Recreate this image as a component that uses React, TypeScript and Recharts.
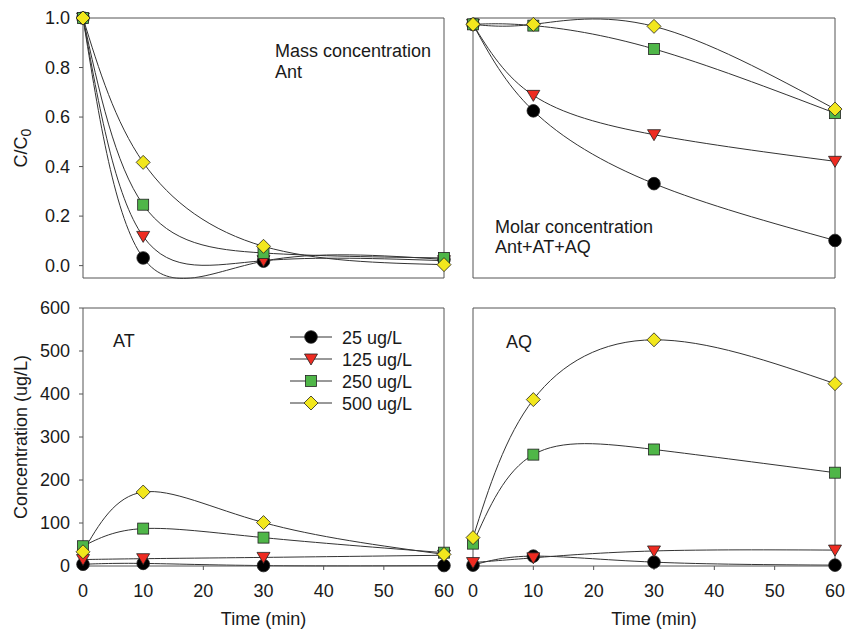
import React from 'react';
import { LineChart, Line, XAxis, YAxis, ReferenceLine, Legend, Customized } from 'recharts';

// sampling times (min)
const times = [0, 10, 30, 60];

// C/C0, mass concentration of Ant
const massAnt25 = [1.0, 0.031, 0.018, 0.025];
const massAnt125 = [1.0, 0.118, 0.02, 0.02];
const massAnt250 = [1.0, 0.246, 0.051, 0.031];
const massAnt500 = [1.0, 0.417, 0.078, 0.004];

// C/C0, molar concentration Ant+AT+AQ
const molar25 = [1.0, 0.659, 0.372, 0.148];
const molar125 = [1.0, 0.72, 0.565, 0.46];
const molar250 = [1.0, 0.995, 0.903, 0.65];
const molar500 = [1.0, 1.0, 0.992, 0.666];

// AT concentration (ug/L)
const at25 = [4, 6, 1, 1];
const at125 = [15, 17, 20, 25];
const at250 = [46, 87, 66, 31];
const at500 = [33, 172, 101, 27];

// AQ concentration (ug/L)
const aq25 = [2, 23, 9, 2];
const aq125 = [8, 19, 35, 37];
const aq250 = [52, 259, 271, 217];
const aq500 = [66, 387, 526, 424];

const seriesNames = ['25 ug/L', '125 ug/L', '250 ug/L', '500 ug/L'];
const xTicks = [0, 10, 20, 30, 40, 50, 60];
const ratioTicks = [0, 0.2, 0.4, 0.6, 0.8, 1.0];
const concTicks = [0, 100, 200, 300, 400, 500, 600];

const FONT = '"Liberation Sans", Arial, sans-serif';
const AXIS = '#555';
const INK = '#1a1a1a';
const LINE = '#333';
const keys = ['c25', 'c125', 'c250', 'c500'];
const fills = ['#000000', '#ee2b21', '#4fb648', '#f2e71d'];
const shapes = ['circle', 'tri', 'square', 'diamond'];

const rows = (a: number[], b: number[], c: number[], d: number[]) =>
  times.map((t, i) => ({ t, c25: a[i], c125: b[i], c250: c[i], c500: d[i] }));

const massData = rows(massAnt25, massAnt125, massAnt250, massAnt500);
const molarData = rows(molar25, molar125, molar250, molar500);
const atData = rows(at25, at125, at250, at500);
const aqData = rows(aq25, aq125, aq250, aq500);

const Marker = ({ cx, cy, shape, fill }: any) => {
  const s = '#222';
  if (shape === 'circle') return <circle cx={cx} cy={cy} r={6.3} fill={fill} stroke={s} strokeWidth={0.8} />;
  if (shape === 'square') return <rect x={cx - 5.5} y={cy - 5.5} width={11} height={11} fill={fill} stroke={s} strokeWidth={0.8} />;
  if (shape === 'tri')
    return <polygon points={`${cx - 6.5},${cy - 5} ${cx + 6.5},${cy - 5} ${cx},${cy + 6}`} fill={fill} stroke={s} strokeWidth={0.8} />;
  return <polygon points={`${cx},${cy - 7} ${cx + 7},${cy} ${cx},${cy + 7} ${cx - 7},${cy}`} fill={fill} stroke={s} strokeWidth={0.8} />;
};

const renderLines = () =>
  keys.map((k, i) => (
    <Line
      key={k}
      type="natural"
      dataKey={k}
      name={seriesNames[i]}
      stroke={LINE}
      strokeWidth={1}
      isAnimationActive={false}
      dot={(p: any) => <Marker key={`${k}-${p.index}`} cx={p.cx} cy={p.cy} shape={shapes[i]} fill={fills[i]} />}
      activeDot={false}
    />
  ));

const YTitle = ({ viewBox, sub }: any) => {
  const cx = viewBox.x + 27;
  const cy = viewBox.y + viewBox.height / 2;
  return (
    <text transform={`rotate(-90 ${cx} ${cy})`} x={cx} y={cy} textAnchor="middle" fontSize={18} fill={INK} fontFamily={FONT}>
      {sub ? (
        <>
          <tspan>C/C</tspan>
          <tspan dy={4} fontSize={14}>0</tspan>
        </>
      ) : (
        'Concentration (ug/L)'
      )}
    </text>
  );
};

const Notes = ({ lines }: { lines: { x: number; y: number; s: string }[] }) => (
  <g>
    {lines.map((l) => (
      <text key={l.s} x={l.x} y={l.y} fontSize={18} fill={INK} fontFamily={FONT}>
        {l.s}
      </text>
    ))}
  </g>
);

const LegendBox = () => (
  <svg width={170} height={96}>
    {seriesNames.map((n, i) => {
      const y = 11 + i * 22;
      return (
        <g key={n}>
          <line x1={2} x2={44} y1={y} y2={y} stroke={LINE} strokeWidth={1} />
          <Marker cx={23} cy={y} shape={shapes[i]} fill={fills[i]} />
          <text x={54} y={y + 6.5} fontSize={18} fill={INK} fontFamily={FONT}>
            {n}
          </text>
        </g>
      );
    })}
  </svg>
);

const tickStyle = { fontSize: 18, fill: INK, fontFamily: FONT };

export default function App() {
  return (
    <div style={{ position: 'absolute', left: 0, top: 0, width: 846, height: 631, background: '#fff' }}>
      {/* top left: mass concentration Ant */}
      <div style={{ position: 'absolute', left: 0, top: 0 }}>
        <LineChart width={460} height={300} data={massData} margin={{ top: 18, right: 16, bottom: 12, left: 0 }}>
          <XAxis dataKey="t" type="number" domain={[0, 60]} ticks={xTicks} tick={false} tickSize={4} height={10} stroke={AXIS} />
          <YAxis
            type="number"
            domain={[-0.05, 1.0]}
            ticks={ratioTicks}
            tickFormatter={(v: number) => v.toFixed(1)}
            tick={tickStyle}
            tickSize={4}
            tickMargin={9}
            width={83}
            stroke={AXIS}
            label={{ content: (p: any) => <YTitle {...p} sub /> }}
          />
          <ReferenceLine y={1.0} stroke={AXIS} />
          <ReferenceLine x={60} stroke={AXIS} />
          {renderLines()}
          <Customized component={() => <Notes lines={[{ x: 275, y: 57, s: 'Mass concentration' }, { x: 275, y: 78, s: 'Ant' }]} />} />
        </LineChart>
      </div>

      {/* top right: molar concentration */}
      <div style={{ position: 'absolute', left: 460, top: 0 }}>
        <LineChart width={386} height={300} data={molarData} margin={{ top: 18, right: 11, bottom: 12, left: 0 }}>
          <XAxis dataKey="t" type="number" domain={[0, 60]} ticks={xTicks} tick={false} tickSize={4} height={10} stroke={AXIS} />
          <YAxis type="number" domain={[0, 1.025]} ticks={ratioTicks} tick={false} tickSize={4} width={13} stroke={AXIS} />
          <ReferenceLine y={1.025} stroke={AXIS} />
          <ReferenceLine x={60} stroke={AXIS} />
          {renderLines()}
          <Customized component={() => <Notes lines={[{ x: 35, y: 233, s: 'Molar concentration' }, { x: 35, y: 253, s: 'Ant+AT+AQ' }]} />} />
        </LineChart>
      </div>

      {/* bottom left: AT */}
      <div style={{ position: 'absolute', left: 0, top: 290 }}>
        <LineChart width={460} height={341} data={atData} margin={{ top: 18, right: 16, bottom: 6, left: 0 }}>
          <XAxis
            dataKey="t"
            type="number"
            domain={[0, 60]}
            ticks={xTicks}
            tick={tickStyle}
            tickSize={4}
            tickMargin={14}
            height={59}
            stroke={AXIS}
            label={{ value: 'Time (min)', position: 'insideBottom', offset: 0, style: tickStyle }}
          />
          <YAxis
            type="number"
            domain={[0, 600]}
            ticks={concTicks}
            tick={tickStyle}
            tickSize={4}
            tickMargin={9}
            width={83}
            stroke={AXIS}
            label={{ content: (p: any) => <YTitle {...p} /> }}
          />
          <ReferenceLine y={600} stroke={AXIS} />
          <ReferenceLine x={60} stroke={AXIS} />
          {renderLines()}
          <Legend
            layout="vertical"
            align="center"
            verticalAlign="middle"
            wrapperStyle={{ left: 288, top: 36, width: 170 }}
            content={() => <LegendBox />}
          />
          <Customized component={() => <Notes lines={[{ x: 113, y: 57, s: 'AT' }]} />} />
        </LineChart>
      </div>

      {/* bottom right: AQ */}
      <div style={{ position: 'absolute', left: 460, top: 290 }}>
        <LineChart width={386} height={341} data={aqData} margin={{ top: 18, right: 11, bottom: 6, left: 0 }}>
          <XAxis
            dataKey="t"
            type="number"
            domain={[0, 60]}
            ticks={xTicks}
            tick={tickStyle}
            tickSize={4}
            tickMargin={14}
            height={59}
            stroke={AXIS}
            label={{ value: 'Time (min)', position: 'insideBottom', offset: 0, style: tickStyle }}
          />
          <YAxis type="number" domain={[0, 600]} ticks={concTicks} tick={false} tickSize={4} width={13} stroke={AXIS} />
          <ReferenceLine y={600} stroke={AXIS} />
          <ReferenceLine x={60} stroke={AXIS} />
          {renderLines()}
          <Customized component={() => <Notes lines={[{ x: 46, y: 58, s: 'AQ' }]} />} />
        </LineChart>
      </div>
    </div>
  );
}
